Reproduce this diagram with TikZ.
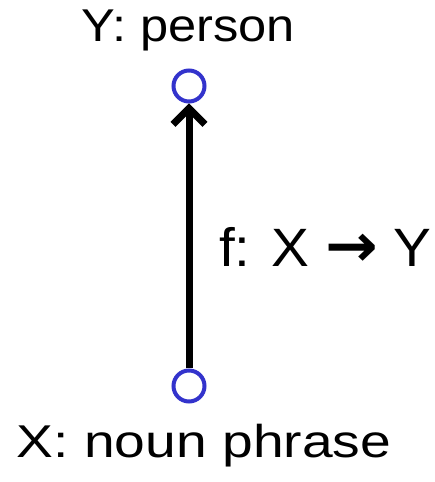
\documentclass[tikz,border=0pt]{standalone}
\usepackage{fontspec}
\setmainfont{Liberation Sans}
\newfontfamily\arrowfont{DejaVu Sans}
\usetikzlibrary{arrows.meta}
\definecolor{ringblue}{RGB}{51,51,204}
\tikzset{
	dot/.style={circle,draw=ringblue,line width=4pt,minimum size=31pt,inner sep=0pt,fill=white},
	lbl/.style={anchor=base,inner sep=0pt,transform shape}
}
\begin{document}
\begin{tikzpicture}[x=1pt,y=1pt]
	\useasboundingbox (0,0) rectangle (435,482);
	\node[dot] at (189,396) (y) {};
	\node[dot] at (189,96) (x) {};
	\draw[line width=7pt,-{Straight Barb[length=16pt,width=32pt]}] (x) -- (y);
	\node[lbl,xscale=1.1,font=\fontsize{46}{50}\selectfont] at (188,440) (ylab) {Y: person};
	\node[lbl,xscale=1.2,font=\fontsize{46}{50}\selectfont] at (204,24) (xlab) {X: noun phrase};
	\node[lbl,anchor=base west,xscale=1.05,font=\fontsize{54}{60}\selectfont] at (219,215) (flab) {f: X {\arrowfont\bfseries\fontsize{60}{60}\selectfont →} Y};
\end{tikzpicture}
\end{document}
